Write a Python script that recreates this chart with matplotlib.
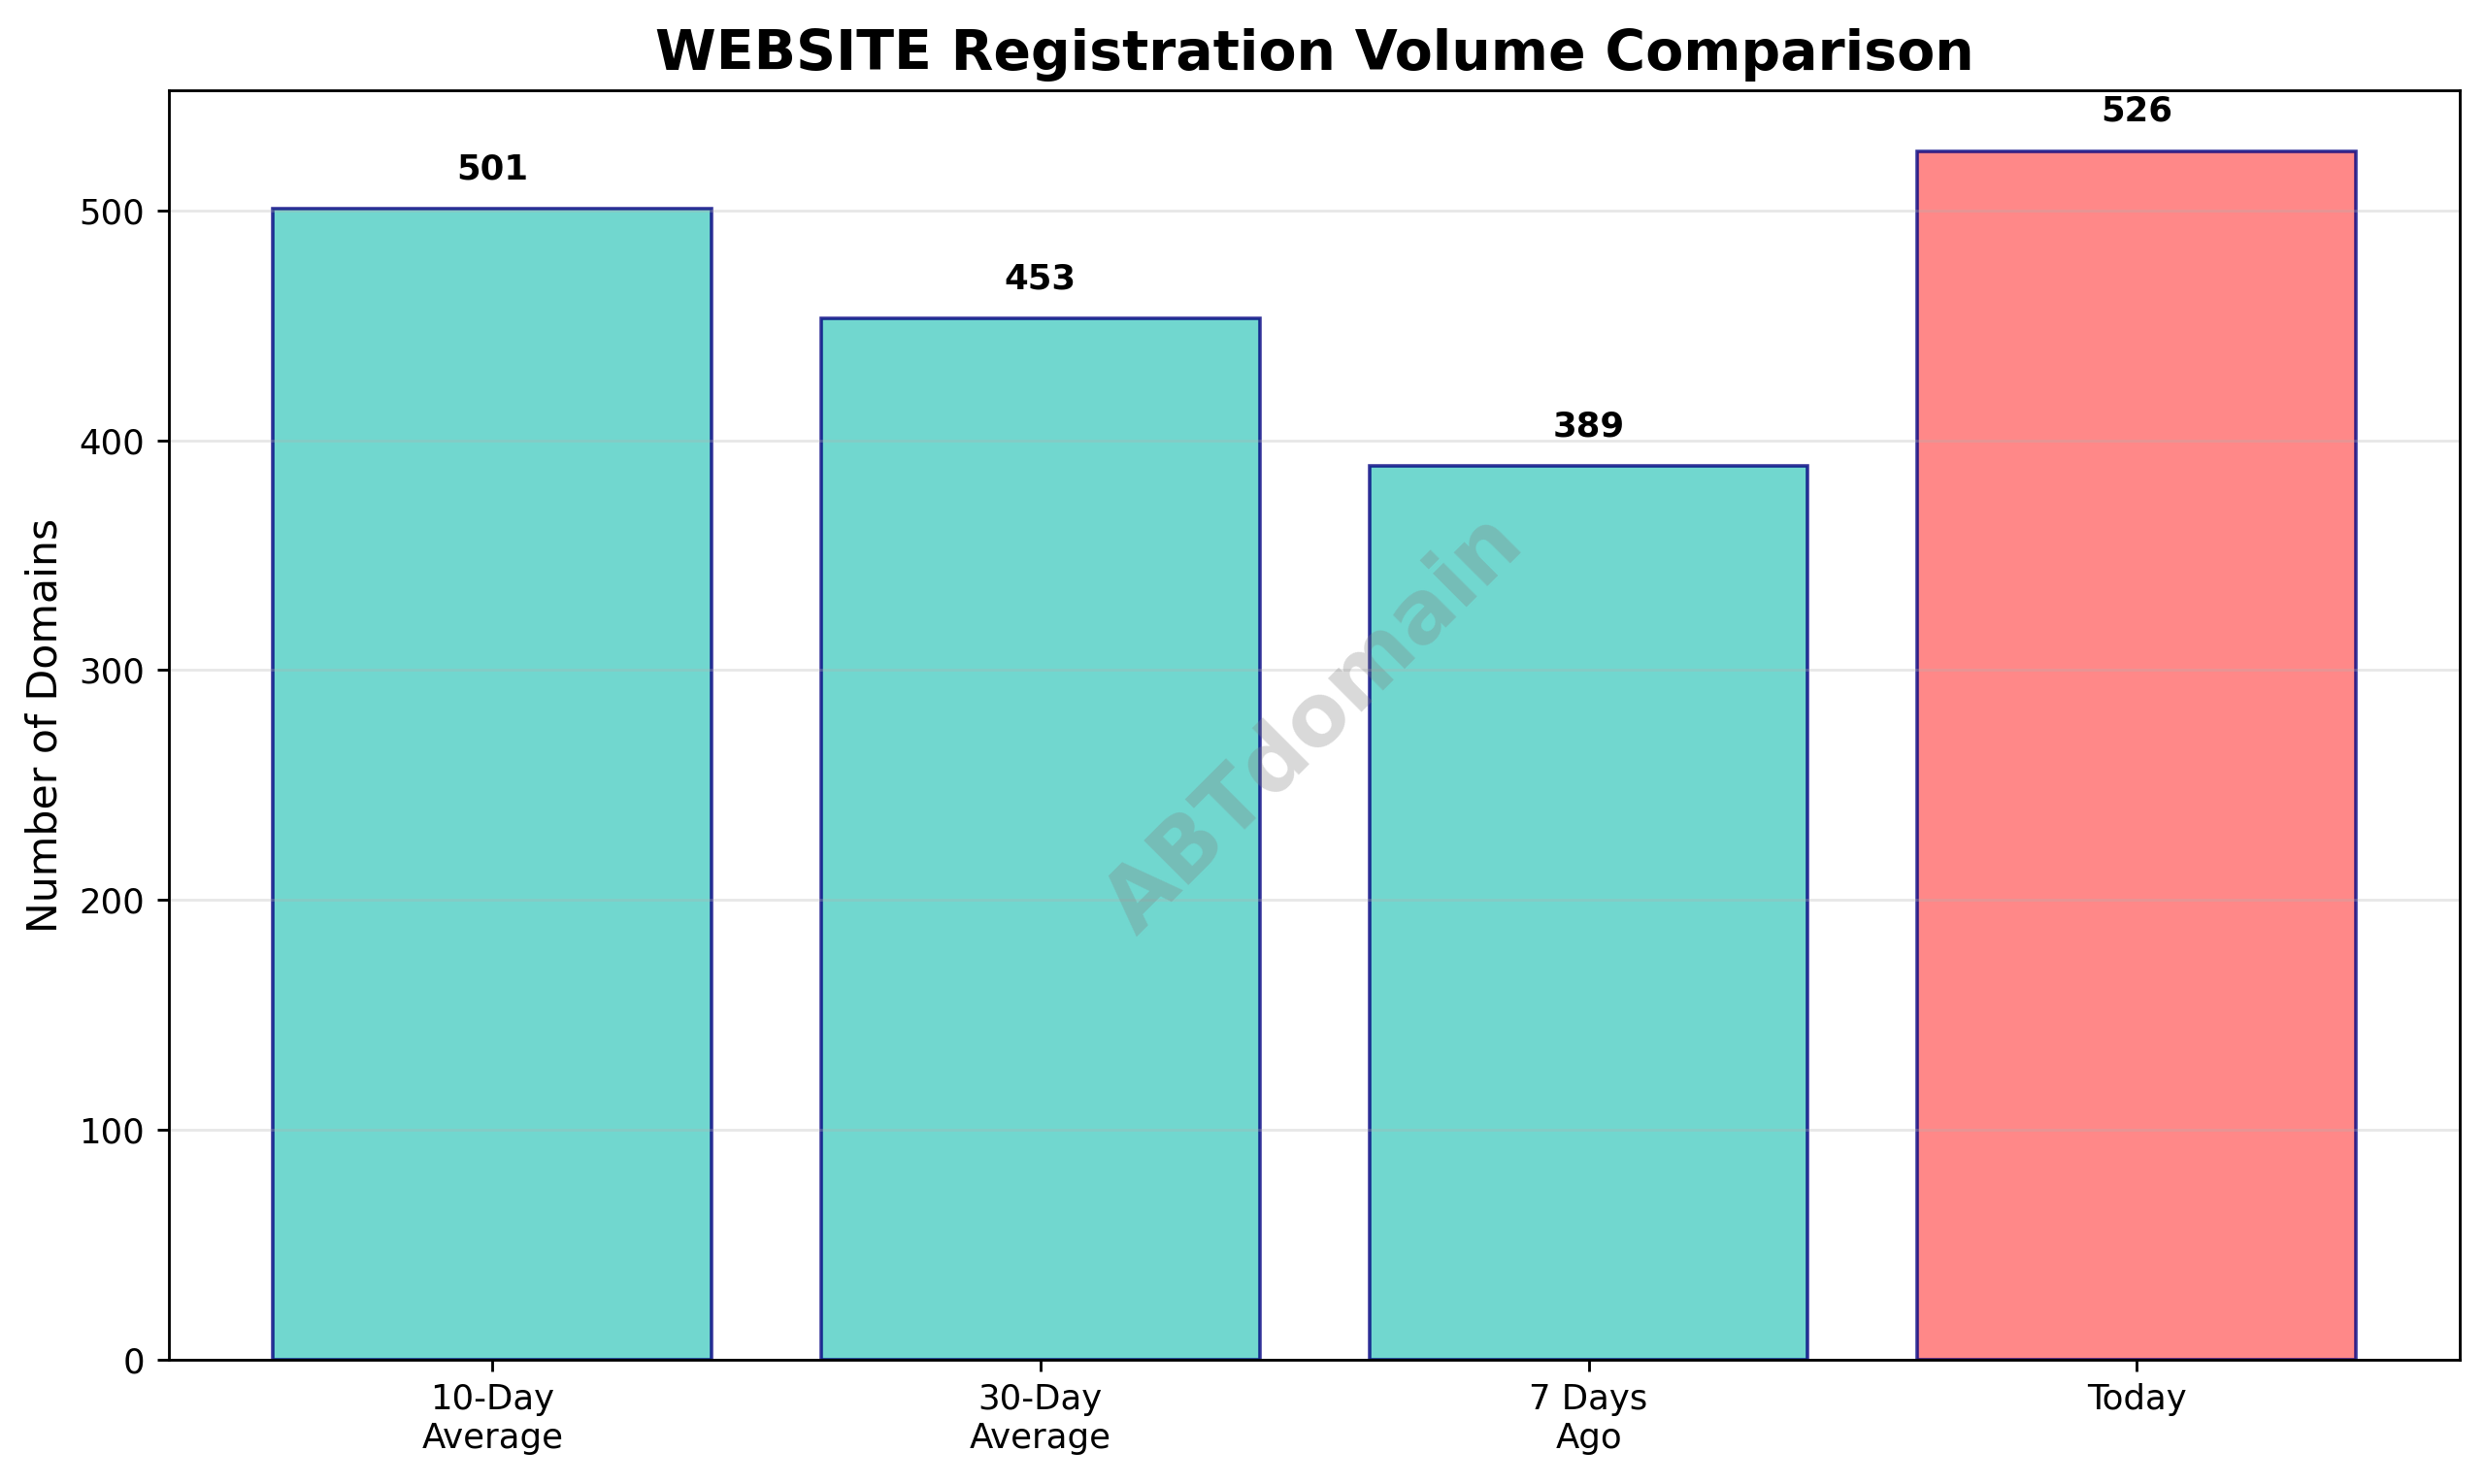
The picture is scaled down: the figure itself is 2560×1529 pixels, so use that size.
import matplotlib
matplotlib.use("Agg")
import matplotlib.pyplot as plt

# Registration counts per period
categories = ["10-Day\nAverage", "30-Day\nAverage", "7 Days\nAgo", "Today"]
volumes = [501, 453, 389, 526]
bar_colors = ["#4ECDC4", "#4ECDC4", "#4ECDC4", "#FF6B6B"]

fig, ax = plt.subplots(figsize=(10, 1529 / 256), dpi=256)
fig.subplots_adjust(left=0.068, right=0.990, top=0.939, bottom=0.084)

bars = ax.bar(categories, volumes, color=bar_colors, alpha=0.8,
              edgecolor="navy", linewidth=1, width=0.8)

for bar, value in zip(bars, volumes):
    ax.text(bar.get_x() + bar.get_width() / 2, bar.get_height() + 10,
            f"{value}", ha="center", va="bottom", fontweight="bold", fontsize=10)

ax.set_title("WEBSITE Registration Volume Comparison", fontsize=16, fontweight="bold")
ax.set_ylabel("Number of Domains", fontsize=12)
ax.grid(axis="y", alpha=0.3)

# watermark
ax.text(0.5, 0.5, "ABTdomain", transform=ax.transAxes, fontsize=25,
        color="gray", alpha=0.3, ha="center", va="center", rotation=45,
        fontweight="bold")

fig.savefig("out.png", dpi=256)
